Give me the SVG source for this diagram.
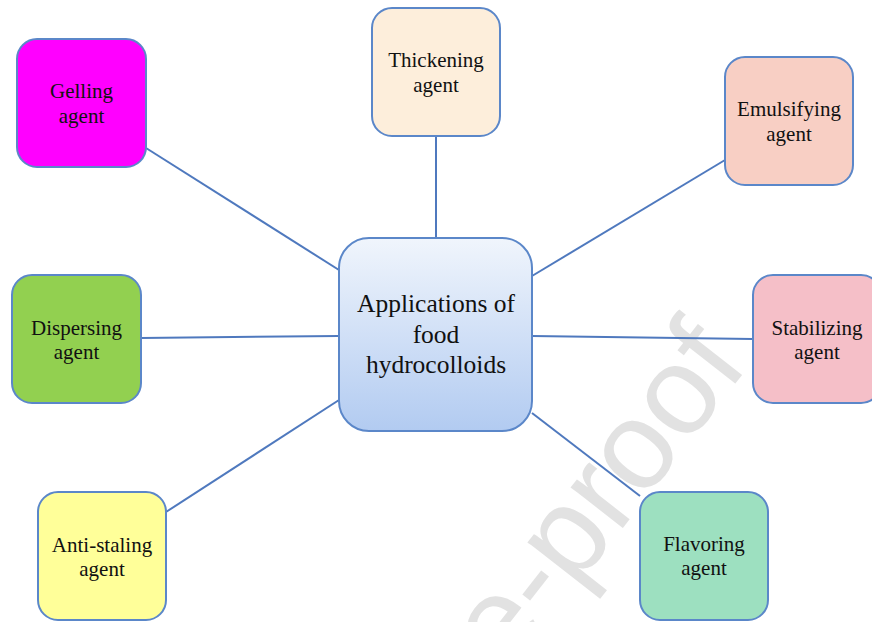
<svg xmlns="http://www.w3.org/2000/svg" width="872" height="622" viewBox="0 0 872 622">
<style>
  .box{stroke:#5b87c9;stroke-width:2}
  .lbl{font-family:"Liberation Serif","Times New Roman",serif;font-size:21px;fill:#111;text-anchor:middle}
  .ctr{font-family:"Liberation Serif","Times New Roman",serif;font-size:25.5px;fill:#111;text-anchor:middle}
  .conn line{stroke:#4f79be;stroke-width:2}
  .wm{font-family:"Liberation Sans",Arial,sans-serif;font-size:125px;fill:#e2e2e2;text-anchor:end}
</style>
<defs>
  <linearGradient id="cg" x1="0" y1="0" x2="0" y2="1">
    <stop offset="0" stop-color="#f0f5fc"/>
    <stop offset="1" stop-color="#b2cbf1"/>
  </linearGradient>
</defs>
<rect width="872" height="622" fill="#fff"/>
<text class="wm" transform="translate(750,365) rotate(-52)">Journal Pre-proof</text>
<g id="connectors" class="conn">
  <line x1="146" y1="148" x2="339" y2="270"/>
  <line x1="436" y1="136" x2="436" y2="238"/>
  <line x1="725" y1="160" x2="532" y2="276"/>
  <line x1="141" y1="338" x2="339" y2="336"/>
  <line x1="532" y1="336" x2="753" y2="339"/>
  <line x1="166" y1="512" x2="339" y2="400"/>
  <line x1="532" y1="413" x2="640" y2="496"/>
</g>
<g id="center">
  <rect class="box" x="339" y="238" width="193" height="193" rx="30" fill="url(#cg)"/>
  <text class="ctr" x="436" y="312">Applications of</text>
  <text class="ctr" x="436" y="343">food</text>
  <text class="ctr" x="436" y="373">hydrocolloids</text>
</g>
<g id="gelling">
  <rect class="box" x="17" y="39" width="129" height="128" rx="20" fill="#ff00ff"/>
  <text class="lbl" x="81.5" y="98">Gelling</text>
  <text class="lbl" x="81.5" y="123">agent</text>
</g>
<g id="thickening">
  <rect class="box" x="372" y="8" width="128" height="128" rx="20" fill="#fdeedb"/>
  <text class="lbl" x="436" y="67">Thickening</text>
  <text class="lbl" x="436" y="92">agent</text>
</g>
<g id="emulsifying">
  <rect class="box" x="725" y="57" width="128" height="128" rx="20" fill="#f8cfc4"/>
  <text class="lbl" x="789" y="116">Emulsifying</text>
  <text class="lbl" x="789" y="141">agent</text>
</g>
<g id="dispersing">
  <rect class="box" x="12" y="275" width="129" height="128" rx="20" fill="#92d050"/>
  <text class="lbl" x="76.5" y="335">Dispersing</text>
  <text class="lbl" x="76.5" y="359">agent</text>
</g>
<g id="stabilizing">
  <rect class="box" x="753" y="275" width="128" height="128" rx="20" fill="#f5bfc8"/>
  <text class="lbl" x="817" y="335">Stabilizing</text>
  <text class="lbl" x="817" y="359">agent</text>
</g>
<g id="antistaling">
  <rect class="box" x="38" y="492" width="128" height="128" rx="20" fill="#ffff99"/>
  <text class="lbl" x="102" y="552">Anti-staling</text>
  <text class="lbl" x="102" y="576">agent</text>
</g>
<g id="flavoring">
  <rect class="box" x="640" y="492" width="128" height="128" rx="20" fill="#9de0c0"/>
  <text class="lbl" x="704" y="551">Flavoring</text>
  <text class="lbl" x="704" y="575">agent</text>
</g>
</svg>
